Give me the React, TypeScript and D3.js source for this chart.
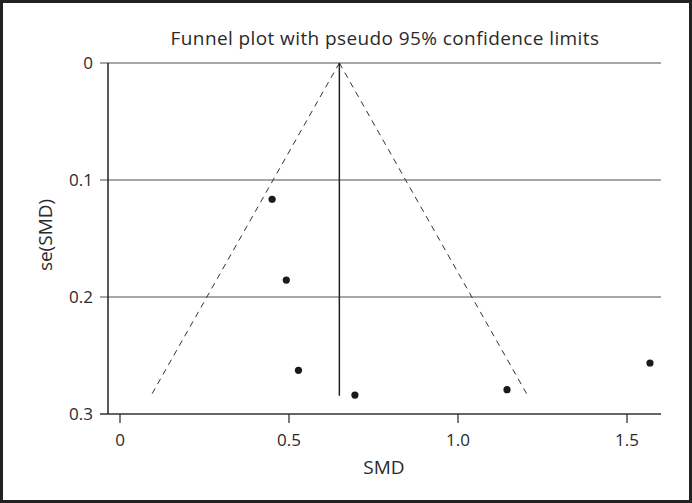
import React from "react";
import * as d3 from "d3";

// study estimates
const smd = [0.45, 0.492, 0.528, 0.695, 1.145, 1.568];
const seSmd = [0.1165, 0.1855, 0.2627, 0.2838, 0.2792, 0.2564];
const pooled = 0.649;
const maxSe = 0.2845;
const xTicks = [0, 0.5, 1.0, 1.5];
const xTickLabels = ["0", "0.5", "1.0", "1.5"];
const yTicks = [0, 0.1, 0.2, 0.3];
const yTickLabels = ["0", "0.1", "0.2", "0.3"];

const width = 692;
const height = 503;
const font = "'Open Sans', 'Noto Sans', sans-serif";

export default function App() {
  const x = d3.scaleLinear().domain([0, 1.5]).range([120, 627]);
  const y = d3.scaleLinear().domain([0, 0.3]).range([63, 414]);
  const axisX = 108;
  const lineLeft = 100;
  const lineRight = 661;

  const z = 1.96;
  const line = d3
    .line<[number, number]>()
    .x((d) => x(d[0]))
    .y((d) => y(d[1]));
  const leftLimit: [number, number][] = [
    [pooled, 0],
    [pooled - z * maxSe, maxSe],
  ];
  const rightLimit: [number, number][] = [
    [pooled, 0],
    [pooled + z * maxSe, maxSe],
  ];

  return (
    <div style={{ position: "absolute", left: 0, top: 0 }}>
      <svg width={width} height={height} style={{ display: "block", fontFamily: font }}>
        <rect x={0} y={0} width={width} height={height} fill="#fff" />
        <rect x={1.5} y={1.5} width={width - 3} height={height - 3} fill="none" stroke="#222" strokeWidth={3} />

        <text x={385} y={45} textAnchor="middle" fontSize={19} letterSpacing={0.4} fill="#2a2a2a">
          Funnel plot with pseudo 95% confidence limits
        </text>

        {/* gridlines + y ticks */}
        {yTicks.map((t, i) => (
          <g key={t}>
            <line
              x1={lineLeft}
              x2={lineRight}
              y1={y(t)}
              y2={y(t)}
              stroke={i === yTicks.length - 1 ? "#333" : "#8a8a8a"}
              strokeWidth={1.5}
            />
            <text x={93} y={y(t)} dy="0.35em" textAnchor="end" fontSize={17} fill="#2a2a2a">
              {yTickLabels[i]}
            </text>
          </g>
        ))}
        <line x1={axisX} x2={axisX} y1={y(0)} y2={y(0.3)} stroke="#222" strokeWidth={1.5} />

        {/* x ticks */}
        {xTicks.map((t, i) => (
          <g key={t}>
            <line x1={x(t)} x2={x(t)} y1={y(0.3)} y2={y(0.3) + 9} stroke="#222" strokeWidth={1.2} />
            <text x={x(t)} y={446} textAnchor="middle" fontSize={17} fill="#2a2a2a">
              {xTickLabels[i]}
            </text>
          </g>
        ))}

        <text x={384} y={474} textAnchor="middle" fontSize={19} fill="#2a2a2a">
          SMD
        </text>
        <text
          transform="translate(45, 235) rotate(-90)"
          textAnchor="middle"
          dy="0.35em"
          fontSize={19}
          fill="#2a2a2a"
        >
          se(SMD)
        </text>

        {/* pseudo confidence limits */}
        <path d={line(leftLimit) ?? ""} fill="none" stroke="#333" strokeWidth={1} strokeDasharray="6,5" />
        <path d={line(rightLimit) ?? ""} fill="none" stroke="#333" strokeWidth={1} strokeDasharray="6,5" />
        <line x1={x(pooled)} x2={x(pooled)} y1={y(0)} y2={y(maxSe)} stroke="#222" strokeWidth={1.5} />

        {smd.map((v, i) => (
          <circle key={i} cx={x(v)} cy={y(seSmd[i])} r={3.6} fill="#1a1a1a" />
        ))}
      </svg>
    </div>
  );
}
